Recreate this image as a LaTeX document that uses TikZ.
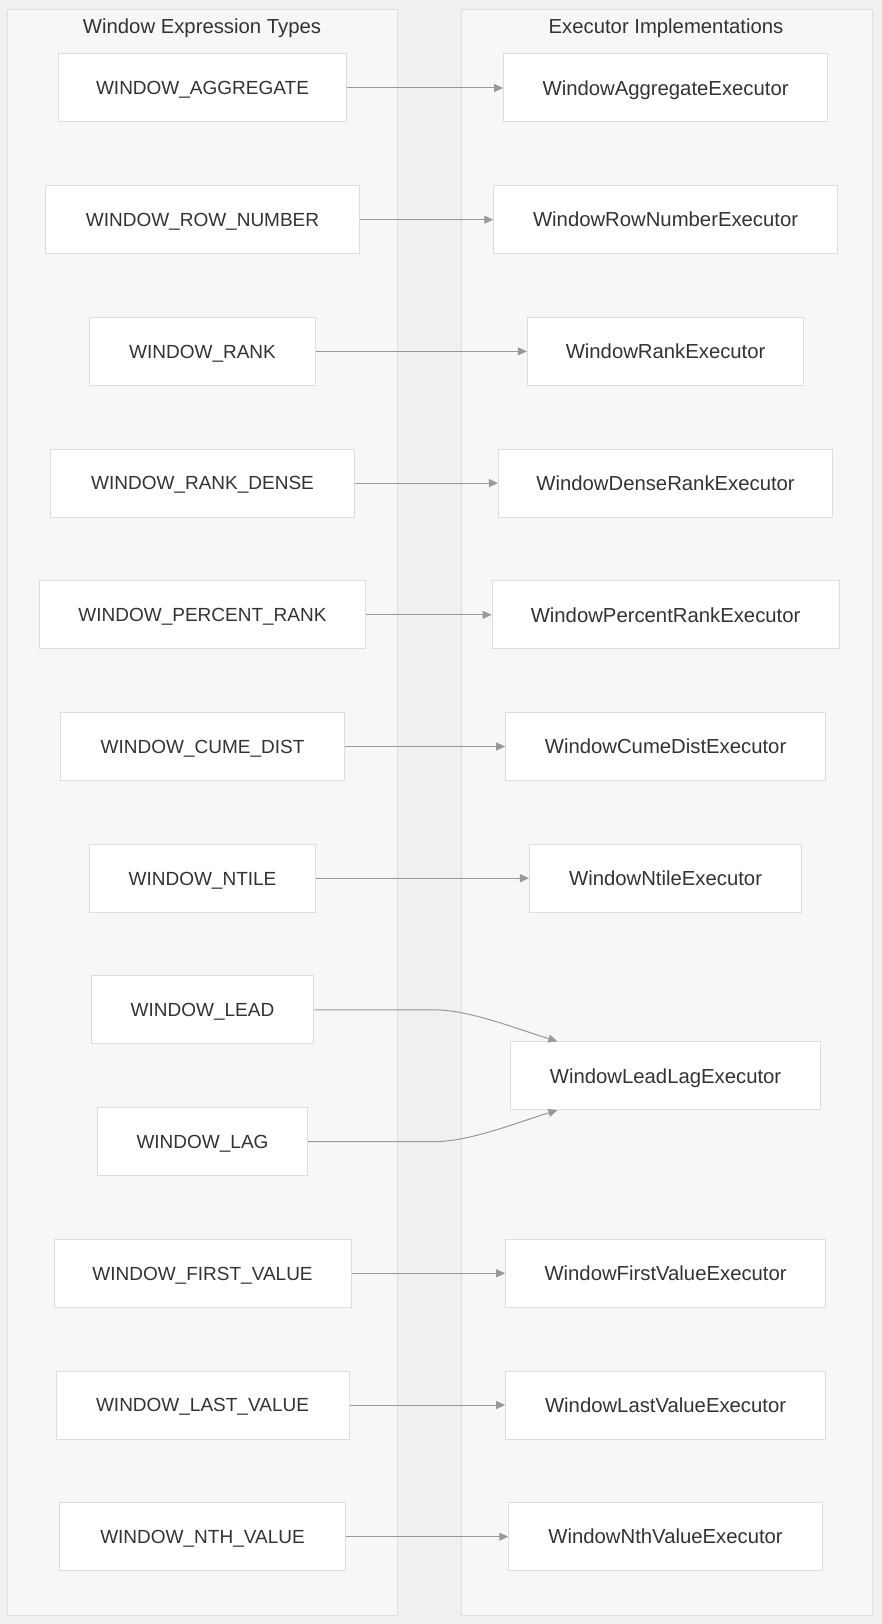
\documentclass[tikz,border=0pt]{standalone}
\usepackage{fontspec}
\setmainfont{Liberation Sans}
\usetikzlibrary{arrows.meta}
\definecolor{bg}{HTML}{F1F0EF}
\definecolor{panel}{HTML}{F7F7F7}
\definecolor{pborder}{HTML}{E0E0E0}
\definecolor{nborder}{HTML}{DDDDDD}
\definecolor{txt}{HTML}{333333}
\definecolor{edge}{HTML}{999999}
\begin{document}
\begin{tikzpicture}[x=1pt,y=-1pt,
 panelbox/.style={draw=pborder,fill=panel,line width=1pt},
 boxnode/.style={draw=nborder,fill=white,line width=1pt,minimum height=68pt,inner sep=0pt,text=txt,text depth=0pt},
 lnode/.style={boxnode,font=\fontsize{19}{22}\selectfont,text height=13.6pt,minimum width=#1},
 rnode/.style={boxnode,font=\fontsize{20.3}{24}\selectfont,text height=14.5pt,minimum width=#1},
 titletext/.style={text=txt,font=\fontsize{20.3}{24}\selectfont,text height=14.5pt,text depth=0pt,inner sep=0pt},
 arr/.style={draw=edge,line width=1pt,-{Triangle[length=9pt,width=8pt]}}
]
\fill[bg] (0,0) rectangle (882,1624);
\useasboundingbox (0,0) rectangle (882,1624);
\draw[panelbox] (7,9.5) rectangle (397,1615);
\draw[panelbox] (461,9.5) rectangle (872,1615);
\node[titletext] (t1) at (202,26) {Window Expression Types};
\node[titletext] (t2) at (666,26) {Executor Implementations};

% left nodes
\node[lnode=288.8pt] (a1) at (202.5,88) {WINDOW\_AGGREGATE};
\node[lnode=313.7pt] (a2) at (202.5,219.7) {WINDOW\_ROW\_NUMBER};
\node[lnode=226.7pt] (a3) at (202.5,351.4) {WINDOW\_RANK};
\node[lnode=303.3pt] (a4) at (202.5,483.1) {WINDOW\_RANK\_DENSE};
\node[lnode=326pt] (a5) at (202.5,614.8) {WINDOW\_PERCENT\_RANK};
\node[lnode=284.7pt] (a6) at (202.5,746.5) {WINDOW\_CUME\_DIST};
\node[lnode=226.7pt] (a7) at (202.5,878.2) {WINDOW\_NTILE};
\node[lnode=222.6pt] (a8) at (202.5,1009.9) {WINDOW\_LEAD};
\node[lnode=210pt] (a9) at (202.5,1141.6) {WINDOW\_LAG};
\node[lnode=297pt] (a10) at (202.5,1273.3) {WINDOW\_FIRST\_VALUE};
\node[lnode=293pt] (a11) at (202.5,1405) {WINDOW\_LAST\_VALUE};
\node[lnode=286.7pt] (a12) at (202.5,1536.7) {WINDOW\_NTH\_VALUE};

% right nodes
\node[rnode=324pt] (b1) at (665.6,88) {WindowAggregateExecutor};
\node[rnode=343.7pt] (b2) at (665.6,219.7) {WindowRowNumberExecutor};
\node[rnode=276.4pt] (b3) at (665.6,351.4) {WindowRankExecutor};
\node[rnode=334.4pt] (b4) at (665.6,483.1) {WindowDenseRankExecutor};
\node[rnode=346.8pt] (b5) at (665.6,614.8) {WindowPercentRankExecutor};
\node[rnode=319.9pt] (b6) at (665.6,746.5) {WindowCumeDistExecutor};
\node[rnode=272.3pt] (b7) at (665.6,878.2) {WindowNtileExecutor};
\node[rnode=309.5pt] (b8) at (665.6,1075.75) {WindowLeadLagExecutor};
\node[rnode=319.9pt] (b10) at (665.6,1273.3) {WindowFirstValueExecutor};
\node[rnode=319.9pt] (b11) at (665.6,1405) {WindowLastValueExecutor};
\node[rnode=313.7pt] (b12) at (665.6,1536.7) {WindowNthValueExecutor};

% edges
\draw[arr] (a1) -- (b1);
\draw[arr] (a2) -- (b2);
\draw[arr] (a3) -- (b3);
\draw[arr] (a4) -- (b4);
\draw[arr] (a5) -- (b5);
\draw[arr] (a6) -- (b6);
\draw[arr] (a7) -- (b7);
\draw[arr] (a8.east) -- (435,1009.9) .. controls (470,1009.9) and (520,1030) .. ([xshift=47pt]b8.north west);
\draw[arr] (a9.east) -- (435,1141.6) .. controls (470,1141.6) and (520,1121.5) .. ([xshift=47pt]b8.south west);
\draw[arr] (a10) -- (b10);
\draw[arr] (a11) -- (b11);
\draw[arr] (a12) -- (b12);
\end{tikzpicture}
\end{document}
